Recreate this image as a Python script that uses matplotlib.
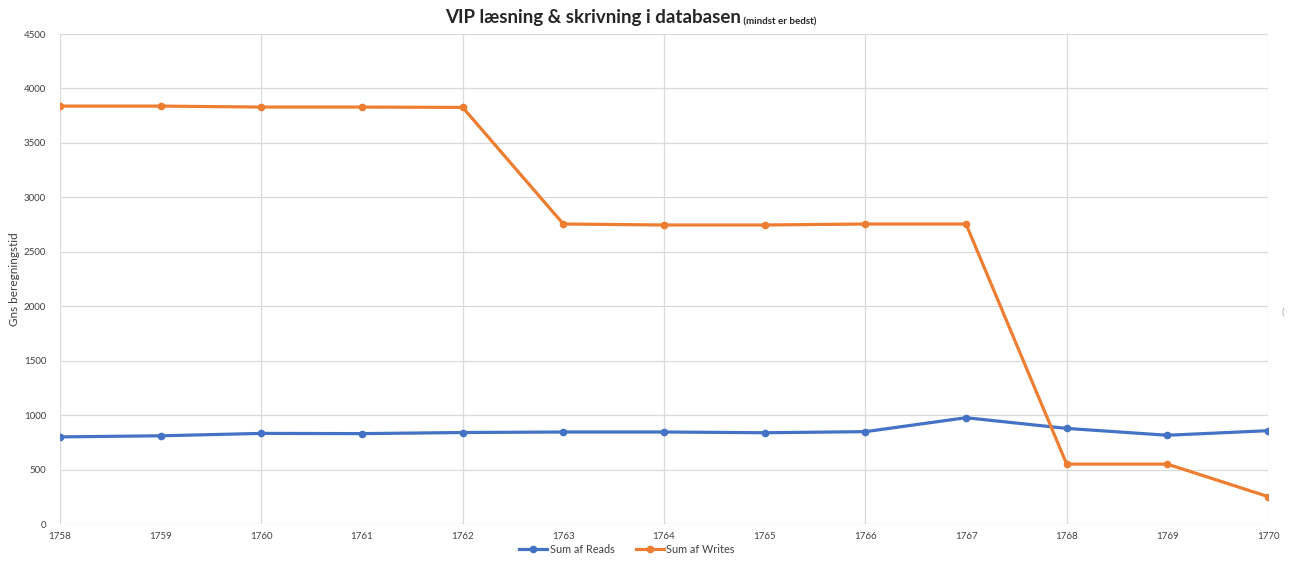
import numpy as np
import matplotlib.pyplot as plt

plt.rcParams["font.family"] = ["Lato", "DejaVu Sans"]

years = [1758, 1759, 1760, 1761, 1762, 1763, 1764, 1765, 1766, 1767, 1768, 1769, 1770]
reads = [800, 810, 832, 830, 840, 845, 845, 838, 848, 976, 878, 815, 857]
writes = [3838, 3838, 3829, 3829, 3826, 2755, 2746, 2746, 2755, 2755, 550, 550, 252]
y_ticks = np.arange(0, 4501, 500)

BLUE = "#4472C4"
ORANGE = "#ED7D31"
GRID = "#d9d9d9"

fig = plt.figure(figsize=(12.9, 5.65), dpi=100)
ax = fig.add_axes([60 / 1290, 1 - 524 / 565, (1268 - 60) / 1290, (524 - 34) / 565])

ax.plot(years, reads, color=BLUE, linewidth=2.3, marker="o", markersize=4.5, label="Sum af Reads")
ax.plot(years, writes, color=ORANGE, linewidth=2.3, marker="o", markersize=4.5, label="Sum af Writes")

ax.set_xlim(years[0], years[-1])
ax.set_ylim(0, 4500)
ax.set_xticks(years)
ax.set_yticks(y_ticks)
ax.tick_params(axis="both", length=0, labelsize=7, colors="#404040")
ax.tick_params(axis="y", pad=10)
ax.tick_params(axis="x", pad=6)

ax.grid(axis="y", color=GRID, linewidth=0.9)
for yr in years[::2]:
    ax.axvline(yr, color=GRID, linewidth=0.9, zorder=0)
ax.set_axisbelow(True)
for s in ax.spines.values():
    s.set_visible(False)

ax.set_ylabel("Gns beregningstid", fontsize=8.5, color="#404040", labelpad=3)

# title with smaller parenthetical
t = fig.text(445 / 1290, 1 - 23 / 565, "VIP læsning & skrivning i databasen",
             fontsize=13.5, fontweight="bold", color="#262626", va="baseline", ha="left")
ax.annotate(" (mindst er bedst)", xy=(1, 0), xycoords=t, va="bottom", ha="left",
            fontsize=7, fontweight="bold", color="#262626")

fig.legend(loc="lower center", bbox_to_anchor=(0.486, 0.0), ncol=2, frameon=False,
           fontsize=7.8, handlelength=2.6, columnspacing=2.0, handletextpad=0.2,
           labelcolor="#404040")

fig.text(1283 / 1290, 1 - 312 / 565, "(", fontsize=7, color="#a0a0a0", ha="center", va="center")

fig.savefig("out.png", dpi=100)
